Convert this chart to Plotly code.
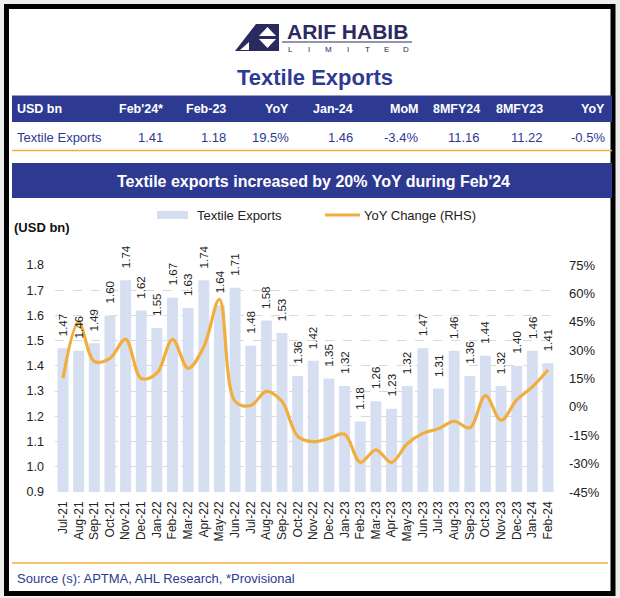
import plotly.graph_objects as go

# ---------------- data ----------------
months = ["Jul-21", "Aug-21", "Sep-21", "Oct-21", "Nov-21", "Dec-21",
          "Jan-22", "Feb-22", "Mar-22", "Apr-22", "May-22", "Jun-22",
          "Jul-22", "Aug-22", "Sep-22", "Oct-22", "Nov-22", "Dec-22",
          "Jan-23", "Feb-23", "Mar-23", "Apr-23", "May-23", "Jun-23",
          "Jul-23", "Aug-23", "Sep-23", "Oct-23", "Nov-23", "Dec-23",
          "Jan-24", "Feb-24"]
exports = [1.47, 1.46, 1.49, 1.60, 1.74, 1.62,
           1.55, 1.67, 1.63, 1.74, 1.64, 1.71,
           1.48, 1.58, 1.53, 1.36, 1.42, 1.35,
           1.32, 1.18, 1.26, 1.23, 1.32, 1.47,
           1.31, 1.46, 1.36, 1.44, 1.32, 1.40,
           1.46, 1.41]
yoy_change = [15.1, 44.5, 24.0, 25.7, 35.7, 15.0,
              17.8, 35.7, 20.4, 31.8, 56.9, 3.0,
              0.7, 8.2, 2.8, -15.5, -18.4, -16.7,
              -14.5, -29.3, -22.7, -29.3, -19.5, -14.0,
              -11.5, -7.6, -11.1, 5.9, -7.0, 3.7,
              10.6, 19.5]
left_ticks = [0.9, 1.0, 1.1, 1.2, 1.3, 1.4, 1.5, 1.6, 1.7, 1.8]
right_ticks = [-45, -30, -15, 0, 15, 30, 45, 60, 75]
right_tick_labels = ["-45%", "-30%", "-15%", "0%", "15%", "30%", "45%", "60%", "75%"]

table_header = ["USD bn", "Feb'24*", "Feb-23", "YoY", "Jan-24", "MoM", "8MFY24", "8MFY23", "YoY"]
table_row = ["Textile Exports", "1.41", "1.18", "19.5%", "1.46", "-3.4%", "11.16", "11.22", "-0.5%"]

title_text = "Textile Exports"
banner_text = "Textile exports increased by 20% YoY during Feb'24"
source_text = "Source (s): APTMA, AHL Research, *Provisional"

# ---------------- styling / layout ----------------
W, H = 620, 598
L, R, T, B = 55, 64, 265, 106
PW, PH = W - L - R, H - T - B
NAVY = "#2E3A92"
BAR = "#D6DFF1"
ORANGE = "#F2AE3D"
FONT = "Liberation Sans, Arial, sans-serif"


def px(X):
    return (X - L) / PW


def py(Y):
    return (H - B - Y) / PH


def P(X, Y):
    return f"{px(X):.5f},{py(Y):.5f}"


fig = go.Figure()
fig.add_trace(go.Bar(x=months, y=exports, name="Textile Exports",
                     marker=dict(color=BAR, line=dict(width=0)), yaxis="y"))
fig.add_trace(go.Scatter(x=months, y=yoy_change, name="YoY Change (RHS)", mode="lines",
                         line=dict(color=ORANGE, width=3.2, shape="spline", smoothing=1.0),
                         yaxis="y2"))

shapes = []
annotations = []

# outer frame
shapes.append(dict(type="rect", xref="paper", yref="paper", layer="below",
                   x0=px(6.5), x1=px(613), y0=py(593.5), y1=py(6.5),
                   fillcolor="white", line=dict(color="black", width=5)))

# logo icon
logo_col = "#2B2A5E"
shapes.append(dict(type="path", xref="paper", yref="paper", fillcolor=logo_col, line=dict(width=0),
                   path=f"M{P(235,51)} L{P(256,24)} L{P(279,24)} L{P(279,51)} Z"))
shapes.append(dict(type="path", xref="paper", yref="paper", fillcolor="white", line=dict(width=0),
                   path=f"M{P(240,50)} L{P(249,42)} L{P(249,50)} Z"))
shapes.append(dict(type="path", xref="paper", yref="paper", fillcolor="white", line=dict(width=0),
                   path=f"M{P(259,36)} L{P(267.5,27)} L{P(276,36)} Z"))
shapes.append(dict(type="path", xref="paper", yref="paper", fillcolor="white", line=dict(width=0),
                   path=f"M{P(259,39)} L{P(276,39)} L{P(267.5,48)} Z"))
shapes.append(dict(type="line", xref="paper", yref="paper", x0=px(282), x1=px(412),
                   y0=py(42), y1=py(42), line=dict(color=logo_col, width=1)))
annotations.append(dict(xref="paper", yref="paper", x=px(347), y=py(44), text="<b>ARIF HABIB</b>",
                        showarrow=False, xanchor="center", yanchor="bottom", borderpad=0,
                        font=dict(family=FONT, size=21, color=logo_col)))
for i, ch in enumerate("LIMITED"):
    annotations.append(dict(xref="paper", yref="paper", x=px(290 + i * 19.3), y=py(44), text=ch,
                            showarrow=False, xanchor="center", yanchor="top", borderpad=0,
                            font=dict(family=FONT, size=8, color=logo_col)))

# title
annotations.append(dict(xref="paper", yref="paper", x=px(315), y=py(77), text=f"<b>{title_text}</b>",
                        showarrow=False, xanchor="center", yanchor="middle",
                        font=dict(family=FONT, size=22, color=NAVY)))

# table
shapes.append(dict(type="rect", xref="paper", yref="paper", x0=px(12), x1=px(612),
                   y0=py(122), y1=py(95.5), fillcolor=NAVY, line=dict(width=0)))
col_right = [None, 165, 228, 291, 355, 420, 482, 545, 607]
for i, (h, v) in enumerate(zip(table_header, table_row)):
    if i == 0:
        xa, xx = "left", 15
    else:
        xa, xx = "right", col_right[i]
    annotations.append(dict(xref="paper", yref="paper", x=px(xx), y=py(109), text=f"<b>{h}</b>",
                            showarrow=False, xanchor=xa, yanchor="middle",
                            font=dict(family=FONT, size=12.5, color="white")))
    annotations.append(dict(xref="paper", yref="paper", x=px(xx), y=py(137.5), text=v,
                            showarrow=False, xanchor=xa, yanchor="middle",
                            font=dict(family=FONT, size=13, color=NAVY)))
shapes.append(dict(type="line", xref="paper", yref="paper", x0=px(12), x1=px(612),
                   y0=py(150.5), y1=py(150.5), line=dict(color=ORANGE, width=1.3)))

# banner
shapes.append(dict(type="rect", xref="paper", yref="paper", x0=px(12), x1=px(612),
                   y0=py(198), y1=py(163), fillcolor=NAVY, line=dict(width=0)))
annotations.append(dict(xref="paper", yref="paper", x=px(313), y=py(181), text=f"<b>{banner_text}</b>",
                        showarrow=False, xanchor="center", yanchor="middle",
                        font=dict(family=FONT, size=16, color="white")))

# legend (manual)
shapes.append(dict(type="rect", xref="paper", yref="paper", x0=px(157), x1=px(188),
                   y0=py(219), y1=py(211), fillcolor=BAR, line=dict(width=0)))
annotations.append(dict(xref="paper", yref="paper", x=px(195), y=py(215), text="Textile Exports",
                        showarrow=False, xanchor="left", yanchor="middle",
                        font=dict(family=FONT, size=13, color="#222222")))
shapes.append(dict(type="line", xref="paper", yref="paper", x0=px(325), x1=px(360),
                   y0=py(215), y1=py(215), line=dict(color=ORANGE, width=3)))
annotations.append(dict(xref="paper", yref="paper", x=px(362), y=py(215), text="YoY Change (RHS)",
                        showarrow=False, xanchor="left", yanchor="middle",
                        font=dict(family=FONT, size=13, color="#222222")))
annotations.append(dict(xref="paper", yref="paper", x=px(12), y=py(227), text="<b>(USD bn)</b>",
                        showarrow=False, xanchor="left", yanchor="middle",
                        font=dict(family=FONT, size=13, color="#111111")))

# bar value labels
for m, v in zip(months, exports):
    annotations.append(dict(xref="x", yref="y", x=m, y=v, text=f"{v:.2f}", textangle=-90,
                            showarrow=False, xanchor="center", yanchor="bottom", yshift=10,
                            font=dict(family=FONT, size=11.5, color="#222222")))

# footer
shapes.append(dict(type="line", xref="paper", yref="paper", x0=px(12), x1=px(608),
                   y0=py(563), y1=py(563), line=dict(color=ORANGE, width=1.3)))
annotations.append(dict(xref="paper", yref="paper", x=px(15), y=py(578), text=source_text,
                        showarrow=False, xanchor="left", yanchor="middle",
                        font=dict(family=FONT, size=13, color=NAVY)))

fig.update_layout(
    width=W, height=H,
    margin=dict(l=L, r=R, t=T, b=B, pad=0),
    paper_bgcolor="#EDEDED", plot_bgcolor="rgba(0,0,0,0)",
    showlegend=False, bargap=0.3,
    font=dict(family=FONT, color="#222222"),
    xaxis=dict(type="category", tickangle=-90, showgrid=False, zeroline=False, showline=False,
               ticks="", ticklabelstandoff=6, tickfont=dict(size=12, color="#222222")),
    yaxis=dict(range=[0.9, 1.8], tickvals=left_ticks, tickformat=".1f", showgrid=True,
               gridcolor="#D9D9D9", griddash="dash", gridwidth=1, zeroline=False, showline=False,
               ticks="", ticklabelstandoff=10, tickfont=dict(size=12.5, color="#222222")),
    yaxis2=dict(range=[-45, 75], tickmode="array", tickvals=right_ticks, ticktext=right_tick_labels,
                overlaying="y", side="right",
                showgrid=False, zeroline=False, showline=False, ticks="", ticklabelstandoff=12,
                tickfont=dict(size=13, color="#222222")),
    shapes=shapes, annotations=annotations,
)

fig.write_html("out.html", config={"displayModeBar": False},
               post_script="document.body.style.margin='0';document.body.style.padding='0';")
